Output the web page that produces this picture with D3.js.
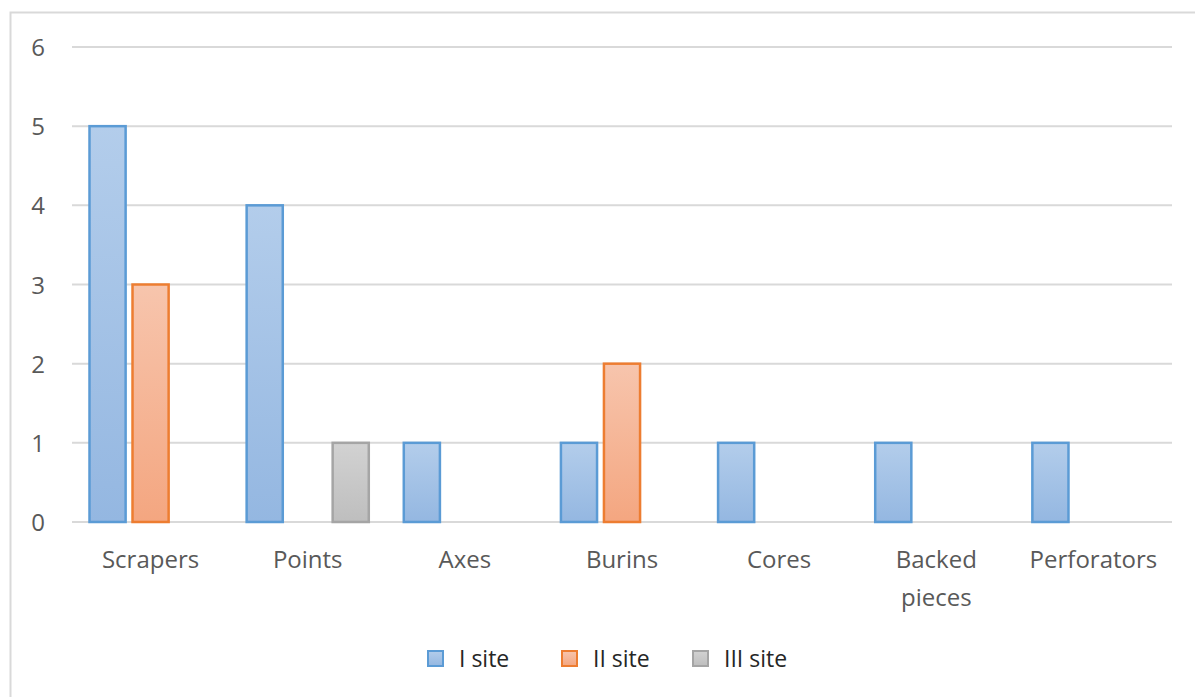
<!DOCTYPE html>
<html>
<head>
    <meta charset="utf-8">
    <script src="https://cdnjs.cloudflare.com/ajax/libs/d3/7.8.5/d3.min.js"></script>
    <style>
    body { margin: 0; background: #fff; }
    text { font-family: "Open Sans", sans-serif; fill: #595959; }
    </style>
</head>
<body>
<div id="container"></div>
<script>
// Data
var categories = ["Scrapers", "Points", "Axes", "Burins", "Cores", "Backed pieces", "Perforators"];
var series = ["I site", "II site", "III site"];
var site1 = [5, 4, 1, 1, 1, 1, 1];
var site2 = [3, 0, 0, 2, 0, 0, 0];
var site3 = [0, 1, 0, 0, 0, 0, 0];
var yTicks = [0, 1, 2, 3, 4, 5, 6];

var w = 1195, h = 697;
var plotLeft = 72, plotRight = 1172, plotTop = 47, plotBottom = 522;

var svg = d3.select("#container").append("svg")
    .attr("width", w)
    .attr("height", h);

// gradients for bar fills
var fills = [
    {id: "g1", top: "#b3cdeb", bot: "#94b7e1", stroke: "#5b9bd5"},
    {id: "g2", top: "#f7c5ad", bot: "#f4a680", stroke: "#ed7d31"},
    {id: "g3", top: "#d2d2d2", bot: "#bebebe", stroke: "#a5a5a5"}
];
var defs = svg.append("defs");
fills.forEach(function(f) {
    var g = defs.append("linearGradient").attr("id", f.id)
        .attr("x1", 0).attr("y1", 0).attr("x2", 0).attr("y2", 1);
    g.append("stop").attr("offset", "0%").attr("stop-color", f.top);
    g.append("stop").attr("offset", "100%").attr("stop-color", f.bot);
});

// outer border
svg.append("rect")
    .attr("x", 10.5).attr("y", 12.5)
    .attr("width", 1200).attr("height", 700)
    .attr("fill", "none").attr("stroke", "#d9d9d9").attr("stroke-width", 2);

var x0 = d3.scaleBand().domain(categories).range([plotLeft, plotRight]);
var x1 = d3.scaleBand().domain(series).range([17.5, x0.bandwidth() - 17.5]).paddingInner(0.16);
var y = d3.scaleLinear().domain([0, 6]).range([plotBottom, plotTop]);

// gridlines
svg.selectAll("line.grid")
    .data(yTicks)
    .enter()
    .append("line")
    .attr("x1", plotLeft).attr("x2", plotRight)
    .attr("y1", function(d) { return y(d); })
    .attr("y2", function(d) { return y(d); })
    .attr("stroke", "#d9d9d9")
    .attr("stroke-width", 2);

// y labels
svg.selectAll("text.ytick")
    .data(yTicks)
    .enter()
    .append("text")
    .attr("x", 38)
    .attr("y", function(d) { return y(d) + 9; })
    .attr("text-anchor", "middle")
    .style("font-size", "24px")
    .text(function(d) { return d; });

// bars
var allSeries = [site1, site2, site3];
allSeries.forEach(function(vals, s) {
    var rows = vals.map(function(v, i) { return {cat: categories[i], value: v}; })
        .filter(function(d) { return d.value > 0; });
    svg.selectAll("rect.bar" + s)
        .data(rows)
        .enter()
        .append("rect")
        .attr("x", function(d) { return x0(d.cat) + x1(series[s]); })
        .attr("y", function(d) { return y(d.value); })
        .attr("width", x1.bandwidth())
        .attr("height", function(d) { return plotBottom - y(d.value); })
        .attr("fill", "url(#" + fills[s].id + ")")
        .attr("stroke", fills[s].stroke)
        .attr("stroke-width", 2.5);
});

// category labels
var catLabels = svg.selectAll("text.cat")
    .data(categories)
    .enter()
    .append("text")
    .attr("x", function(d) { return x0(d) + x0.bandwidth() / 2; })
    .attr("y", 568)
    .attr("text-anchor", "middle")
    .style("font-size", "24px");
catLabels.each(function(d) {
    var el = d3.select(this);
    var words = d === "Backed pieces" ? ["Backed", "pieces"] : [d];
    words.forEach(function(wd, k) {
        el.append("tspan")
            .attr("x", x0(d) + x0.bandwidth() / 2)
            .attr("dy", k === 0 ? 0 : 38)
            .text(wd);
    });
});

// legend
var legendX = [428, 562, 693];
series.forEach(function(s, i) {
    svg.append("rect")
        .attr("x", legendX[i]).attr("y", 651)
        .attr("width", 15).attr("height", 15)
        .attr("fill", "url(#" + fills[i].id + ")")
        .attr("stroke", fills[i].stroke)
        .attr("stroke-width", 2);
    svg.append("text")
        .attr("x", legendX[i] + 31)
        .attr("y", 667)
        .style("font-size", "23px")
        .style("fill", "#262626")
        .text(s);
});
</script>
</body>
</html>
